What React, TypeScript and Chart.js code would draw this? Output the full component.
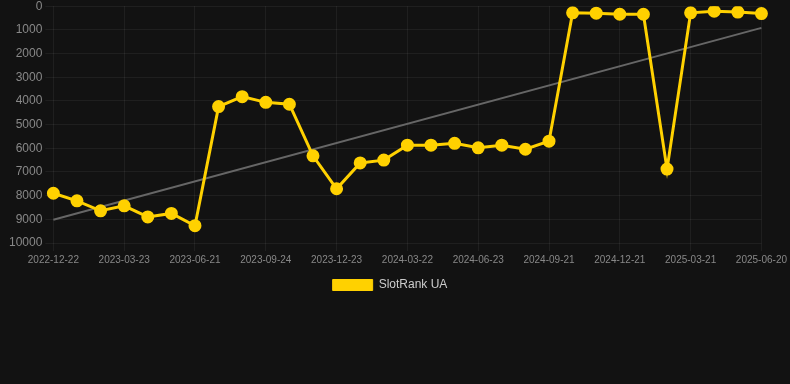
import React, { useEffect, useRef } from "react";
import { Chart, registerables } from "chart.js";

Chart.register(...registerables);

const dates: string[] = [
  "2022-12-22", "2023-01-21", "2023-02-20", "2023-03-23", "2023-04-22", "2023-05-22",
  "2023-06-21", "2023-07-22", "2023-08-24", "2023-09-24", "2023-10-24", "2023-11-23",
  "2023-12-23", "2024-01-22", "2024-02-21", "2024-03-22", "2024-04-22", "2024-05-23",
  "2024-06-23", "2024-07-23", "2024-08-22", "2024-09-21", "2024-10-21", "2024-11-21",
  "2024-12-21", "2025-01-20", "2025-02-19", "2025-03-21", "2025-04-21", "2025-05-21",
  "2025-06-20",
];

const rankValues: number[] = [
  7900, 8220, 8640, 8430, 8900, 8750, 9270, 4240, 3820, 4060, 4140, 6320, 7710, 6620,
  6500, 5870, 5870, 5790, 5980, 5870, 6040, 5700, 280, 295, 340, 340, 6880, 280, 210,
  250, 310,
];

const trendStart = 9020;
const trendEnd = 915;

const seriesName = "SlotRank UA";

const FONT = "'Liberation Sans', Arial, sans-serif";

export default function App() {
  const ref = useRef<HTMLCanvasElement | null>(null);

  useEffect(() => {
    document.body.style.margin = "0";
    document.body.style.background = "#121212";
    const trend: (number | null)[] = dates.map((_, i) =>
      i === 0 ? trendStart : i === dates.length - 1 ? trendEnd : null
    );
    const chart = new Chart(ref.current as HTMLCanvasElement, {
      type: "line",
      data: {
        labels: dates,
        datasets: [
          {
            label: seriesName,
            data: rankValues,
            borderColor: "#FFD100",
            backgroundColor: "#FFD100",
            borderWidth: 3,
            pointRadius: 5,
            pointHoverRadius: 5,
            pointBackgroundColor: "#FFD100",
            pointBorderColor: "#FFD100",
            tension: 0,
          },
          {
            label: "trend",
            data: trend,
            borderColor: "#666666",
            backgroundColor: "#666666",
            borderWidth: 2,
            pointRadius: 0,
            spanGaps: true,
          },
        ],
      },
      options: {
        animation: false,
        responsive: false,
        maintainAspectRatio: false,
        layout: { padding: { left: 6, right: 16 } },
        plugins: {
          legend: {
            position: "bottom",
            labels: {
              color: "#cccccc",
              font: { family: FONT, size: 12 },
              boxWidth: 40,
              boxHeight: 11,
              generateLabels: (c: any) =>
                Chart.defaults.plugins.legend.labels
                  .generateLabels(c)
                  .filter((item: any) => item.text !== "trend")
                  .map((item: any) => ({ ...item, lineWidth: 1 })),
            },
          },
          tooltip: { enabled: false },
        },
        scales: {
          x: {
            type: "category",
            afterBuildTicks: (axis: any) => {
              axis.ticks = axis.ticks.filter((_: any, i: number) => i % 3 === 0);
            },
            ticks: {
              autoSkip: false,
              maxRotation: 0,
              color: "#888888",
              font: { family: FONT, size: 10 },
            },
            grid: { color: "rgba(255,255,255,0.06)" },
            border: { display: false },
          },
          y: {
            reverse: true,
            min: 0,
            max: 10000,
            ticks: {
              stepSize: 1000,
              color: "#888888",
              font: { family: FONT, size: 12 },
              callback: (v) => String(v),
            },
            grid: { color: "rgba(255,255,255,0.06)" },
            border: { display: false },
          },
        },
      },
    });
    return () => chart.destroy();
  }, []);

  return (
    <div style={{ width: 790, height: 384, background: "#121212", overflow: "hidden" }}>
      <canvas
        ref={ref}
        width={790}
        height={305}
        style={{ display: "block", marginTop: -4 }}
      />
    </div>
  );
}
